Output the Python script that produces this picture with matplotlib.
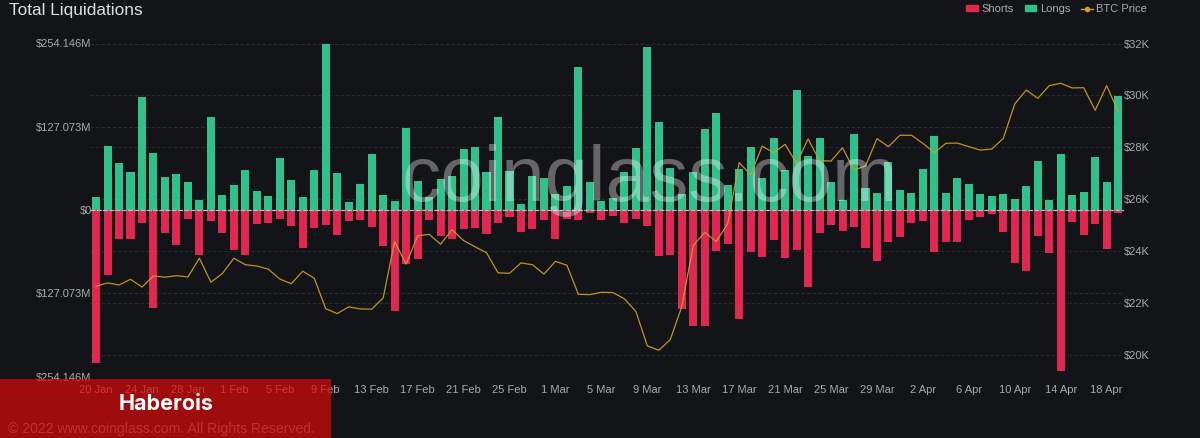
# -*- coding: utf-8 -*-

import numpy as np
import matplotlib.pyplot as plt
from matplotlib.lines import Line2D
from matplotlib.patches import Patch, Rectangle

plt.rcParams["font.family"] = ["Liberation Sans", "DejaVu Sans"]

BACKGROUND = "#131417"
TEXT_COLOR = "#a9a9ab"
GREEN = "#2fc08b"
RED = "#df2750"
GOLD = "#cfa02c"

# Values in million USD
longs = [
    20.3, 98.1, 72.2, 58.0, 172.9, 87.5, 50.4, 55.4, 43.2, 15.3,
    142.4, 23.4, 37.7, 60.6, 29.0, 21.4, 79.4, 45.3, 20.3, 61.5,
    254.1, 56.0, 11.8, 39.2, 85.9, 22.4, 14.2, 124.7, 44.3, 19.4,
    47.8, 51.9, 93.1, 96.6, 58.0, 142.4, 59.1, 9.2, 51.9, 49.3,
    24.4, 37.1, 217.8, 42.3, 13.3, 18.8, 58.0, 94.2, 248.3, 133.9,
    64.6, 24.0, 57.5, 123.2, 148.5, 37.7, 62.1, 95.7, 48.4, 109.4,
    61.1, 183.2, 82.4, 109.9, 43.2, 14.8, 116.5, 33.6, 26.0, 73.7,
    30.5, 26.0, 62.1, 113.0, 26.4, 48.4, 40.1, 24.4, 21.8, 24.0,
    16.3, 36.6, 74.3, 15.3, 85.0, 22.4, 27.5, 80.4, 43.2, 174.5,
]
shorts = [
    234.0, 99.2, 44.3, 43.8, 19.8, 150.0, 35.1, 53.0, 13.7, 69.1,
    16.8, 35.6, 61.5, 68.2, 21.8, 20.3, 13.7, 24.4, 58.5, 27.5,
    22.9, 37.7, 16.8, 14.8, 26.4, 55.4, 153.7, 82.9, 74.3, 14.8,
    40.1, 44.3, 28.5, 27.5, 37.1, 19.8, 10.7, 33.1, 29.0, 15.3,
    44.7, 13.7, 15.7, 4.6, 14.8, 9.2, 19.8, 14.2, 24.0, 70.2,
    68.7, 151.1, 176.6, 177.5, 63.0, 51.9, 165.9, 64.6, 71.7, 45.8,
    73.7, 61.1, 117.1, 35.1, 22.9, 31.6, 25.5, 58.5, 78.3, 48.4,
    41.7, 19.8, 16.3, 64.6, 48.8, 49.3, 15.3, 10.2, 6.1, 33.6,
    81.4, 92.7, 40.1, 65.2, 245.3, 17.9, 38.6, 20.9, 59.1, 4.6,
]
# Values in thousand USD
btc_price = [
    22.66, 22.79, 22.71, 22.93, 22.63, 23.06, 23.01, 23.07, 23.02, 23.74,
    22.82, 23.15, 23.74, 23.49, 23.44, 23.32, 22.94, 22.76, 23.24, 22.97,
    21.80, 21.61, 21.87, 21.79, 21.78, 22.21, 24.38, 23.51, 24.60, 24.66,
    24.28, 24.84, 24.42, 24.18, 23.95, 23.18, 23.16, 23.56, 23.49, 23.13,
    23.62, 23.47, 22.35, 22.34, 22.43, 22.42, 22.18, 21.70, 20.37, 20.20,
    20.61, 21.88, 24.22, 24.74, 24.38, 25.06, 27.42, 26.95, 28.05, 27.80,
    28.12, 27.39, 28.33, 27.49, 27.48, 27.99, 27.13, 27.29, 28.34, 28.03,
    28.47, 28.47, 28.16, 27.80, 28.16, 28.17, 28.03, 27.90, 27.94, 28.35,
    29.68, 30.21, 29.89, 30.38, 30.47, 30.29, 30.30, 29.43, 30.38, 29.38,
]
date_labels = [
    "20 Jan", "24 Jan", "28 Jan", "1 Feb", "5 Feb", "9 Feb", "13 Feb", "17 Feb",
    "21 Feb", "25 Feb", "1 Mar", "5 Mar", "9 Mar", "13 Mar", "17 Mar", "21 Mar",
    "25 Mar", "29 Mar", "2 Apr", "6 Apr", "10 Apr", "14 Apr", "18 Apr",
]
left_ticks = [-254.146, -127.073, 0, 127.073, 254.146]
left_labels = ["$254.146M", "$127.073M", "$0", "$127.073M", "$254.146M"]
right_ticks = [20, 22, 24, 26, 28, 30, 32]
right_labels = ["$20K", "$22K", "$24K", "$26K", "$28K", "$30K", "$32K"]

WIDTH, HEIGHT = 1200, 438
PRICE_RANGE = (19.19, 32)


def px_x(x):
    return x / WIDTH


def px_y(y):
    return 1 - y / HEIGHT


fig = plt.figure(figsize=(WIDTH / 100, HEIGHT / 100), dpi=100, facecolor=BACKGROUND)
rect = [px_x(90.3), px_y(376.5), (1123.9 - 90.3) / WIDTH, (376.5 - 43.5) / HEIGHT]

# Three layers so the price grid stays under the bars and the line stays above
ax = fig.add_axes(rect)
ax_grid = ax.twinx()
ax_line = ax.twinx()
ax_grid.set_zorder(0)
ax.set_zorder(1)
ax_line.set_zorder(2)
ax_grid.set_facecolor(BACKGROUND)
ax.patch.set_visible(False)
ax_line.patch.set_visible(False)

days = np.arange(len(longs))
ax.bar(days, longs, width=0.7, color=GREEN, zorder=2)
ax.bar(days, -np.array(shorts), width=0.7, color=RED, zorder=2)
ax.axhline(0, color="#bdbdbd", lw=0.9, ls=(0, (4, 1)), zorder=3)
ax.set_xlim(-0.5, len(longs) - 0.5)
ax.set_ylim(-254.146, 254.146)
ax.set_xticks(days[::4])
ax.set_xticklabels(date_labels)
ax.set_yticks(left_ticks)
ax.set_yticklabels(left_labels)
ax.tick_params(axis="both", length=0, labelsize=8, labelcolor=TEXT_COLOR)
ax.tick_params(axis="x", pad=6)
ax.tick_params(axis="y", pad=-1)
ax.grid(True, axis="y", color="#2c2d32", lw=0.8, ls=(0, (3, 2)), zorder=1)
ax.set_axisbelow(True)

ax_grid.set_ylim(*PRICE_RANGE)
ax_grid.set_yticks(right_ticks)
ax_grid.set_yticklabels(right_labels)
ax_grid.tick_params(axis="y", length=0, labelsize=8, labelcolor=TEXT_COLOR, pad=0)
ax_grid.grid(True, axis="y", color="#28292e", lw=0.8, ls=(0, (3, 2)))

ax_line.plot(days, btc_price, color=GOLD, lw=0.9, alpha=0.9)
ax_line.set_ylim(*PRICE_RANGE)
ax_line.set_yticks([])

for axis in (ax, ax_grid, ax_line):
    for spine in axis.spines.values():
        spine.set_visible(False)

fig.text(px_x(9), px_y(15), "Total Liquidations", fontsize=12.4, color="#dedee0")

handles = [
    Patch(color=RED, label="Shorts"),
    Patch(color=GREEN, label="Longs"),
    Line2D([], [], color=GOLD, lw=1, marker="o", ms=3, label="BTC Price"),
]
fig.legend(
    handles=handles,
    ncol=3,
    loc="upper right",
    bbox_to_anchor=(px_x(1147), px_y(4)),
    frameon=False,
    fontsize=8,
    labelcolor=TEXT_COLOR,
    borderpad=0,
    borderaxespad=0,
    handlelength=1.05,
    handleheight=0.4,
    handletextpad=0.3,
    columnspacing=1.0,
)

fig.text(
    px_x(402), px_y(201), "coinglass.com", fontsize=56.3, color="white", alpha=0.35,
    va="baseline", zorder=6,
)

fig.text(
    px_x(8), px_y(433), "© 2022 www.coinglass.com. All Rights Reserved.",
    fontsize=10.1, color="#8a8a8a", zorder=5,
)
fig.add_artist(
    Rectangle(
        (0, 0), 331 / WIDTH, (HEIGHT - 379) / HEIGHT, transform=fig.transFigure,
        facecolor="#dc090a", edgecolor="none", alpha=0.7, zorder=10,
    )
)
fig.text(
    px_x(166), px_y(404), "Haberois", fontsize=15.5, color="white", fontweight="bold",
    family="Inter", ha="center", va="center", zorder=11,
)

fig.savefig("out.png", dpi=100, facecolor=BACKGROUND)
